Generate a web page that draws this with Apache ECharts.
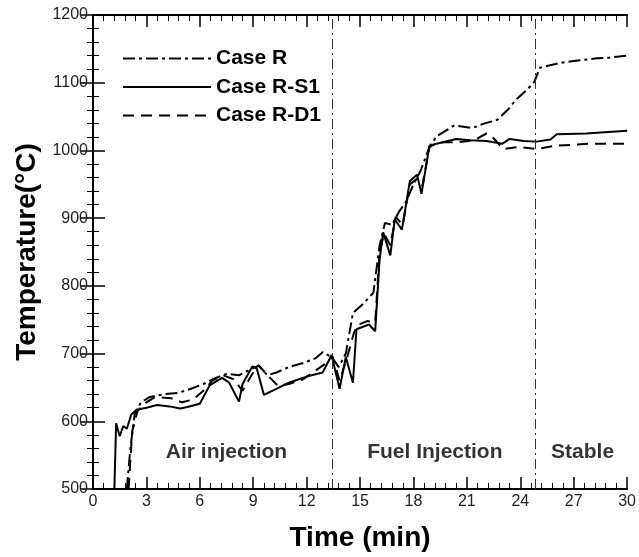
<!DOCTYPE html>
<html>
<head>
<meta charset="utf-8">
<script src="https://cdn.jsdelivr.net/npm/echarts@6/dist/echarts.min.js"></script>
<style>html,body{margin:0;padding:0;background:#fff;}#main{width:639px;height:557px;}</style>
</head>
<body>
<div id="main"></div>
<script>
// Case R (dash-dot)
var rX = [1.9,2.1,2.35,2.7,3.2,4.0,4.8,5.5,6.2,6.8,7.5,8.2,8.8,9.3,9.8,10.3,11.0,11.8,12.5,12.9,13.4,13.8,14.2,14.6,15.2,15.75,16.1,16.4,16.8,17.2,17.6,18.0,18.4,18.9,19.3,20.3,21.3,22.0,22.7,23.3,23.8,24.4,24.8,25.1,26.2,27.0,28.3,29.0,30];
var rY = [500,560,612,628,636,640,642,648,655,663,670,668,676,682,668,672,680,686,693,702,695,680,700,760,774,790,860,893,890,910,925,950,970,1005,1021,1037,1033,1040,1045,1060,1076,1090,1102,1122,1129,1132,1136,1137,1140];
// Case R-S1 (solid)
var s1X = [1.2,1.3,1.5,1.7,1.9,2.15,2.45,3.0,3.6,4.3,4.9,5.3,6.0,6.55,7.25,7.65,8.2,8.4,8.95,9.2,9.6,10.3,11.0,12.0,12.9,13.4,13.85,14.2,14.6,14.8,15.5,15.85,16.1,16.3,16.7,16.95,17.35,17.8,18.2,18.45,18.9,19.3,20.4,21.2,22.1,23.0,23.4,24.2,24.9,25.7,26.05,27.7,30];
var s1Y = [500,597,578,593,589,610,617,620,624,622,619,621,626,653,664,657,629,655,681,678,639,648,657,666,672,698,648,695,657,736,743,733,840,879,845,898,883,955,964,936,1007,1010,1017,1015,1014,1010,1017,1014,1013,1016,1024,1025,1029];
// Case R-D1 (dashed)
var d1X = [2.0,2.2,2.5,3.0,3.5,4.4,5.0,5.6,6.2,6.7,7.3,7.9,8.4,8.9,9.3,9.8,10.4,11.0,11.8,12.5,13.0,13.45,13.85,14.25,14.65,14.85,15.4,15.85,16.1,16.35,16.7,17.0,17.4,17.8,18.2,18.5,18.9,19.4,20.5,21.4,22.1,22.5,23.05,23.9,24.9,26.0,28.0,30];
var d1Y = [500,585,615,628,636,634,628,632,645,660,668,662,645,668,683,668,652,655,662,675,684,696,660,692,730,742,748,746,850,877,860,902,890,950,958,948,1005,1012,1012,1015,1025,1018,1002,1005,1002,1007,1010,1010];
var seriesNames = ['Case R','Case R-S1','Case R-D1'];
var phaseLines = [13.45, 24.85];
var phaseLabels = ['Air injection','Fuel Injection','Stable'];
var phaseLabelX = [7.5, 19.2, 27.5];
var phaseLabelY = 555;

function pairs(xs, ys){ return xs.map(function(x,i){return [x, ys[i]];}); }

var chart = echarts.init(document.getElementById('main'));
var F = 'Liberation Sans, Arial, sans-serif';
var tickCommon = {
  axisLine:{show:true, lineStyle:{color:'#000', width:2}},
  axisTick:{show:true, inside:true, length:12, lineStyle:{color:'#000', width:1.5}},
  minorTick:{show:true, splitNumber:5, length:6, lineStyle:{color:'#000', width:1}},
  splitLine:{show:false}
};
var option = {
  backgroundColor:'#fff',
  animation:false,
  grid:{left:93, right:9, top:15, bottom:52},
  legend:{
    orient:'vertical', left:117, top:43, itemWidth:88, itemHeight:14, itemGap:7.5,
    itemStyle:{opacity:0},
    textStyle:{fontFamily:F, fontWeight:'bold', fontSize:21, color:'#000'},
    data:seriesNames
  },
  xAxis:[
    Object.assign({type:'value', min:0, max:30, interval:3, position:'bottom',
      name:'Time (min)', nameLocation:'middle', nameGap:35,
      nameTextStyle:{fontFamily:F, fontWeight:'bold', fontSize:28, color:'#000'},
      axisLabel:{fontFamily:F, fontSize:16, color:'#222', margin:5}}, tickCommon),
    Object.assign({type:'value', min:0, max:30, interval:3, position:'top', axisLabel:{show:false}}, tickCommon)
  ],
  yAxis:[
    Object.assign({type:'value', min:500, max:1200, interval:100, position:'left',
      name:'Temperature(°C)', nameLocation:'middle', nameGap:48,
      nameTextStyle:{fontFamily:F, fontWeight:'bold', fontSize:28, color:'#000'},
      axisLabel:{fontFamily:F, fontSize:16, color:'#222', margin:5, formatter:function(v){return String(v);}}}, tickCommon),
    Object.assign({type:'value', min:500, max:1200, interval:100, position:'right', axisLabel:{show:false}}, tickCommon)
  ],
  series:[
    {name:seriesNames[0], type:'line', data:pairs(rX,rY), symbol:'none', z:3,
      lineStyle:{color:'#000', width:2, type:[12,4,3,4]}, itemStyle:{color:'#000'},
      markLine:{silent:true, symbol:'none', label:{show:false},
        lineStyle:{color:'#333', width:1, type:[10,4,2,4]},
        data:phaseLines.map(function(v){return {xAxis:v};})}
    },
    {name:seriesNames[1], type:'line', data:pairs(s1X,s1Y), symbol:'none', z:4,
      lineStyle:{color:'#000', width:2, type:'solid'}, itemStyle:{color:'#000'}},
    {name:seriesNames[2], type:'line', data:pairs(d1X,d1Y), symbol:'none', z:3,
      lineStyle:{color:'#000', width:2, type:[11,7]}, itemStyle:{color:'#000'}},
    {name:'phase', type:'scatter', symbolSize:0, silent:true,
      data:phaseLabelX.map(function(x,i){return {value:[x, phaseLabelY], name:phaseLabels[i]};}),
      label:{show:true, position:'inside', formatter:'{b}', fontFamily:F, fontWeight:'bold', fontSize:21, color:'#000'}}
  ]
};
chart.setOption(option);
</script>
</body>
</html>
